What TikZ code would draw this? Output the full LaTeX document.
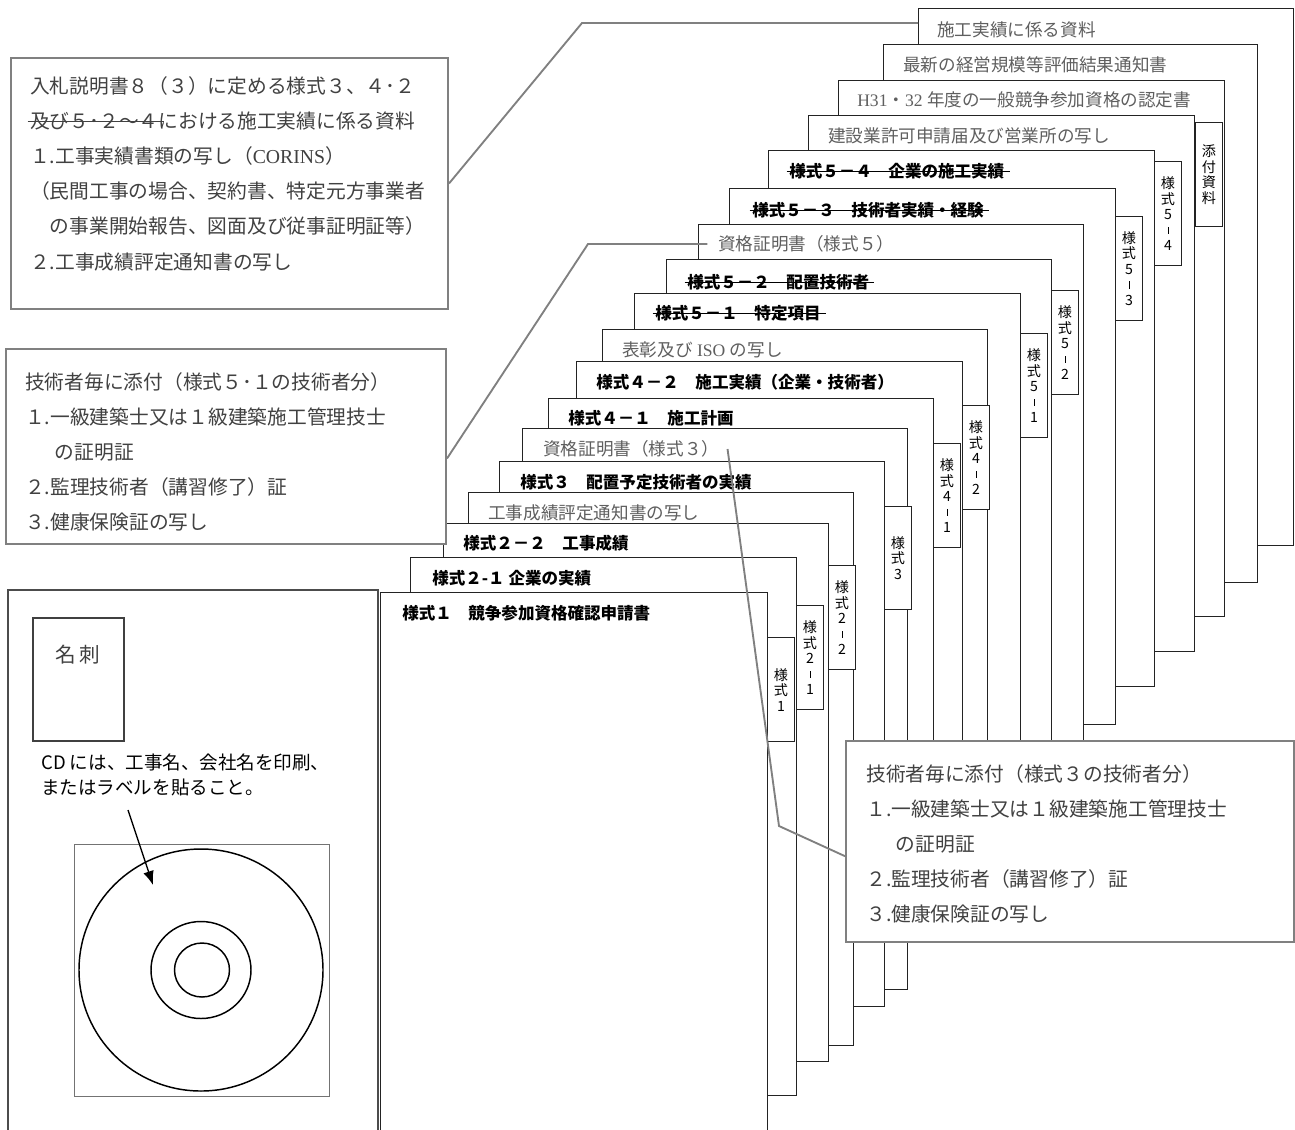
\documentclass[tikz,border=0pt]{standalone}
\usepackage{fontspec}
\setmainfont{Noto Sans CJK JP}
\newfontfamily\latserif{Liberation Serif}
\usetikzlibrary{arrows.meta}

\definecolor{edgegray}{RGB}{35,35,35}
\definecolor{boxgray}{RGB}{128,128,128}
\definecolor{labelgray}{RGB}{95,95,95}
\definecolor{notegray}{RGB}{65,65,65}

\newsavebox\strkbox
\newcommand\strk[1]{\sbox\strkbox{#1}\rlap{\kern-2pt\rule[0.33em]{\dimexpr\wd\strkbox+6pt\relax}{0.8pt}}\usebox\strkbox}
\newcommand\tabdash{\rule[0.1em]{0.6pt}{0.5em}}

\begin{document}
\begin{tikzpicture}[x=0.75pt,y=0.75pt,yscale=-1,xscale=1,
  sheetbox/.style={draw=edgegray,fill=white,line width=0.9pt,anchor=north west,inner sep=0pt,minimum width=385*0.75pt,minimum height=537*0.75pt},
  formtab/.style={draw=edgegray,fill=white,line width=0.9pt,anchor=north west,inner sep=0pt,minimum width=20pt,minimum height=78pt,align=center,font=\fontsize{10.6}{11.6}\selectfont},
  boldlabel/.style={anchor=west,inner sep=0pt,font=\bfseries\fontsize{12.4}{14}\selectfont},
  graylabel/.style={anchor=west,inner sep=0pt,text=labelgray,font=\fontsize{13.2}{15}\selectfont},
  notebox/.style={draw=boxgray,fill=white,line width=1.5pt,anchor=north west,inner sep=0pt},
  notetext/.style={anchor=north west,inner sep=0pt,align=left,text=notegray,font=\fontsize{14.8}{26.4}\selectfont},
  leaderline/.style={draw=boxgray,line width=1.4pt}]
\useasboundingbox (0,0) rectangle (1295,1129);

% Sheet: 施工実績に係る資料
\node [sheetbox,minimum width=375*0.75pt] (shPerf) at (918,8) {};
\draw (937,30) node [graylabel] (perf) {施工実績に係る資料};
% Sheet: 経営規模等評価
\node [sheetbox,minimum width=374*0.75pt,minimum height=538*0.75pt] (shKeishin) at (883,44) {};
\draw (903,65) node [graylabel] (keishin) {最新の経営規模等評価結果通知書};
% Sheet: 認定書
\node [sheetbox,minimum width=386*0.75pt,minimum height=536*0.75pt] (shCert) at (838,80) {};
\draw (857,100) node [graylabel] (cert) {{\latserif H31}・{\latserif 32 }年度の一般競争参加資格の認定書};
% Sheet: 建設業許可
\node [sheetbox,minimum width=386*0.75pt,minimum height=536*0.75pt] (shPermit) at (808,115) {};
\draw (828,136) node [graylabel] (permit) {建設業許可申請届及び営業所の写し};
\draw (1195,122) node [formtab] (tabAttach) {添\\付\\資\\料};
% Sheet: 様式5-4
\node [sheetbox,minimum width=386*0.75pt,minimum height=536*0.75pt] (shCorpRec) at (768,150) {};
\draw (789,171) node [boldlabel] (corpRec) {\strk{様式５－４　企業の施工実績}};
\draw (1154,161) node [formtab] (tab54) {様\\式\\5\\\tabdash\\4};
% Sheet: 様式5-3
\node [sheetbox,minimum width=386*0.75pt,minimum height=536*0.75pt] (shExp) at (729,188) {};
\draw (752,210) node [boldlabel] (exp) {\strk{様式５－３　技術者実績・経験}};
\draw (1115,216) node [formtab] (tab53) {様\\式\\5\\\tabdash\\3};
% Sheet: 資格証明書（様式5）
\node [sheetbox] (shQual5) at (698,224) {};
\draw (718,244) node [graylabel] (qual5) {資格証明書（様式５）};
% Sheet: 様式5-2
\node [sheetbox] (shPlaced) at (666,259) {};
\draw (687,282) node [boldlabel] (placed) {\strk{様式５－２　配置技術者}};
\draw (1051,290) node [formtab] (tab52) {様\\式\\5\\\tabdash\\2};
% Sheet: 様式5-1
\node [sheetbox,minimum width=386*0.75pt] (shSpecial) at (634,293) {};
\draw (655,313) node [boldlabel] (special) {\strk{様式５－１　特定項目}};
\draw (1020,333) node [formtab] (tab51) {様\\式\\5\\\tabdash\\1};
% Sheet: 表彰及びISO
\node [sheetbox] (shAward) at (602,329) {};
\draw (622,350) node [graylabel] (award) {表彰及び{\latserif~ISO~}の写し};
% Sheet: 様式4-2
\node [sheetbox,minimum width=386*0.75pt] (shRecord) at (576,361) {};
\draw (596,382) node [boldlabel] (record) {様式４－２　施工実績（企業・技術者）};
\draw (962,405) node [formtab] (tab42) {様\\式\\4\\\tabdash\\2};
% Sheet: 様式4-1
\node [sheetbox] (shPlan) at (548,398) {};
\draw (568,418) node [boldlabel] (plan) {様式４－１　施工計画};
\draw (933,443) node [formtab] (tab41) {様\\式\\4\\\tabdash\\1};
% Sheet: 資格証明書（様式3）
\node [sheetbox,minimum height=561*0.75pt] (shQual3) at (522,428) {};
\draw (543,449) node [graylabel] (qual3) {資格証明書（様式３）};
% Sheet: 様式3
\node [sheetbox,minimum height=545*0.75pt] (shEng) at (499,461) {};
\draw (520,482) node [boldlabel] (eng) {様式３　配置予定技術者の実績};
\draw (884,506) node [formtab,minimum height=77pt] (tab3) {様\\式\\3};
% Sheet: 工事成績評定通知書
\node [sheetbox,minimum height=553*0.75pt] (shScoreCopy) at (468,492) {};
\draw (488,513) node [graylabel] (scoreCopy) {工事成績評定通知書の写し};
% Sheet: 様式2-2
\node [sheetbox,minimum height=538*0.75pt] (shScore) at (443,523) {};
\draw (463,543) node [boldlabel] (score) {様式２－２　工事成績};
\draw (828,565) node [formtab] (tab22) {様\\式\\2\\\tabdash\\2};
% Sheet: 様式2-1
\node [sheetbox,minimum width=386*0.75pt,minimum height=538*0.75pt] (shCorp) at (410,557) {};
\draw (432,578) node [boldlabel] (corp) {様式２-１ 企業の実績};
\draw (796,605) node [formtab] (tab21) {様\\式\\2\\\tabdash\\1};
% Sheet: 様式1
\node [sheetbox,minimum width=387*0.75pt,minimum height=560*0.75pt] (shApply) at (380,592) {};
\draw (402,613) node [boldlabel] (apply) {様式１　競争参加資格確認申請書};
\draw (767,637) node [formtab] (tab1) {様\\式\\1};

%Shape: CD case
\draw [color=black!70,line width=1pt] (8,1135) -- (8,590) -- (378,590) -- (378,1135);
\draw [color=black!75,line width=0.9pt] (33,618) rectangle (124,741);
% Text Node
\draw (78,655) node [text=black!75,font=\fontsize{15.5}{18}\selectfont] (meishi) {名\hspace{0.15em}刺};
% Text Node
\draw (41,754) node [anchor=north west,inner sep=0pt,align=left,font=\fontsize{13.9}{18.8}\selectfont] (cdNote) {CD には、工事名、会社名を印刷、\\またはラベルを貼ること。};
\draw [color=black!55,line width=0.6pt] (74,844) rectangle (329,1096);
\draw [line width=1.1pt] (201,970) ellipse [x radius=122,y radius=121];
\draw [line width=1.1pt] (201,970) ellipse [x radius=50,y radius=48.5];
\draw [line width=1.1pt] (202,970) ellipse [x radius=27.5,y radius=27];
\coordinate (cdTail) at (128,810);
\coordinate (cdFace) at (153,885);
\draw [line width=1pt,-{Latex[length=10.5pt,width=8pt]}] (cdTail) -- (cdFace);

%Shape: notes
\node [notebox,minimum width=437*0.75pt,minimum height=251*0.75pt] (boxPerf) at (10,57) {};
\draw (30,76) node [notetext] (notePerf) {入札説明書８（３）に定める様式３、４･２\\
\strk{及び５･２～４}における施工実績に係る資料\\
１.工事実績書類の写し（{\latserif CORINS}）\\
（民間工事の場合、契約書、特定元方事業者\\
　の事業開始報告、図面及び従事証明証等）\\
２.工事成績評定通知書の写し};
\node [notebox,minimum width=440*0.75pt,minimum height=195*0.75pt] (boxEng51) at (5,348) {};
\draw (25,372) node [notetext] (noteEng51) {技術者毎に添付（様式５･１の技術者分）\\
１.一級建築士又は１級建築施工管理技士\\
\hspace*{1.5em}の証明証\\
２.監理技術者（講習修了）証\\
３.健康保険証の写し};
\node [notebox,minimum width=448*0.75pt,minimum height=201*0.75pt] (boxEng3) at (845,740) {};
\draw (866,764) node [notetext] (noteEng3) {技術者毎に添付（様式３の技術者分）\\
１.一級建築士又は１級建築施工管理技士\\
\hspace*{1.5em}の証明証\\
２.監理技術者（講習修了）証\\
３.健康保険証の写し};

%Straight Lines
\coordinate (bendPerf) at (582,23);
\draw [leaderline] (boxPerf.east) -- (bendPerf) -- (bendPerf -| shPerf.west);
\coordinate (bendEng51) at (588,244);
\draw [leaderline] ([yshift=9pt]boxEng51.east) -- (bendEng51) -- ([xshift=-8pt]qual5.west);
\coordinate (bendEng3) at (779,826);
\draw [leaderline] ([yshift=11pt]boxEng3.west) -- (bendEng3) -- ([xshift=6pt]qual3.east);

\end{tikzpicture}
\end{document}
